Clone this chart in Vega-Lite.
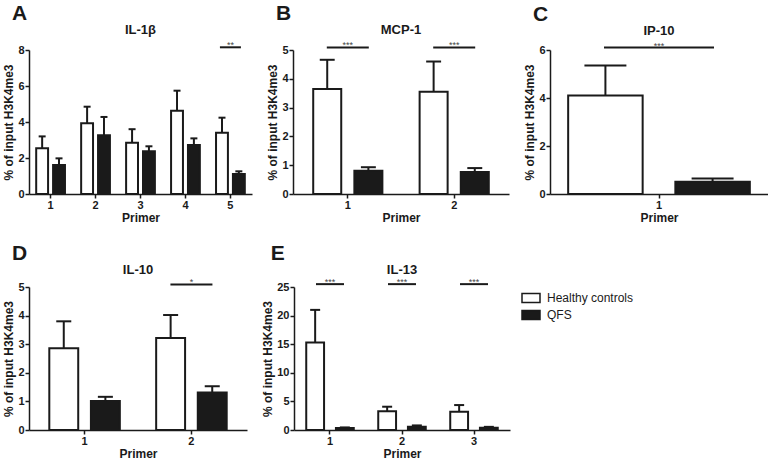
{
  "$schema": "https://vega.github.io/schema/vega-lite/v6.json",
  "padding": {"left": 2, "top": 3, "right": 0, "bottom": 0},
  "background": "white",
  "config": {
    "font": "Liberation Sans",
    "view": {"stroke": null},
    "axis": {
      "grid": false,
      "domainColor": "#1a1a1a",
      "domainWidth": 1.5,
      "tickColor": "#1a1a1a",
      "tickWidth": 1.5,
      "tickSize": 4,
      "labelFont": "Liberation Sans",
      "labelFontWeight": "bold",
      "labelFontSize": 11,
      "labelColor": "#1a1a1a",
      "labelPadding": 1,
      "titleFont": "Liberation Sans",
      "titleFontWeight": "bold",
      "titleFontSize": 12,
      "titleColor": "#1a1a1a",
      "titlePadding": 2
    },
    "title": {"font": "Liberation Sans", "fontWeight": "bold", "color": "#1a1a1a"},
    "text": {"font": "Liberation Sans"}
  },
  "datasets": {
    "bars": [
      {"panel": "A", "primer": "1", "group": "Healthy controls", "value": 2.54, "err": 3.2},
      {"panel": "A", "primer": "1", "group": "QFS", "value": 1.61, "err": 1.98},
      {"panel": "A", "primer": "2", "group": "Healthy controls", "value": 3.93, "err": 4.85},
      {"panel": "A", "primer": "2", "group": "QFS", "value": 3.26, "err": 4.28},
      {"panel": "A", "primer": "3", "group": "Healthy controls", "value": 2.85, "err": 3.6},
      {"panel": "A", "primer": "3", "group": "QFS", "value": 2.37, "err": 2.65},
      {"panel": "A", "primer": "4", "group": "Healthy controls", "value": 4.63, "err": 5.74},
      {"panel": "A", "primer": "4", "group": "QFS", "value": 2.72, "err": 3.09},
      {"panel": "A", "primer": "5", "group": "Healthy controls", "value": 3.4, "err": 4.24},
      {"panel": "A", "primer": "5", "group": "QFS", "value": 1.11, "err": 1.26},
      {"panel": "B", "primer": "1", "group": "Healthy controls", "value": 3.65, "err": 4.66},
      {"panel": "B", "primer": "1", "group": "QFS", "value": 0.81, "err": 0.93},
      {"panel": "B", "primer": "2", "group": "Healthy controls", "value": 3.55, "err": 4.6},
      {"panel": "B", "primer": "2", "group": "QFS", "value": 0.76, "err": 0.9},
      {"panel": "C", "primer": "1", "group": "Healthy controls", "value": 4.1, "err": 5.35},
      {"panel": "C", "primer": "1", "group": "QFS", "value": 0.51, "err": 0.65},
      {"panel": "D", "primer": "1", "group": "Healthy controls", "value": 2.86, "err": 3.8},
      {"panel": "D", "primer": "1", "group": "QFS", "value": 1.01, "err": 1.16},
      {"panel": "D", "primer": "2", "group": "Healthy controls", "value": 3.22, "err": 4.02},
      {"panel": "D", "primer": "2", "group": "QFS", "value": 1.31, "err": 1.53},
      {"panel": "E", "primer": "1", "group": "Healthy controls", "value": 15.3, "err": 21.0},
      {"panel": "E", "primer": "1", "group": "QFS", "value": 0.35, "err": 0.45},
      {"panel": "E", "primer": "2", "group": "Healthy controls", "value": 3.26, "err": 4.07},
      {"panel": "E", "primer": "2", "group": "QFS", "value": 0.58, "err": 0.8},
      {"panel": "E", "primer": "3", "group": "Healthy controls", "value": 3.2, "err": 4.36},
      {"panel": "E", "primer": "3", "group": "QFS", "value": 0.4, "err": 0.55}
    ],
    "sig": [
      {"panel": "A", "primer": "5", "y": 8.15, "label": "**"},
      {"panel": "B", "primer": "1", "y": 5.09, "label": "***"},
      {"panel": "B", "primer": "2", "y": 5.09, "label": "***"},
      {"panel": "C", "primer": "1", "y": 6.1, "label": "***"},
      {"panel": "D", "primer": "2", "y": 5.09, "label": "*"},
      {"panel": "E", "primer": "1", "y": 25.5, "label": "***"},
      {"panel": "E", "primer": "2", "y": 25.5, "label": "***"},
      {"panel": "E", "primer": "3", "y": 25.5, "label": "***"}
    ]
  },
  "resolve": {"scale": {"fill": "independent"}, "legend": {"fill": "independent"}},
  "spacing": 20,
  "vconcat": [
    {
      "resolve": {"scale": {"fill": "independent"}, "legend": {"fill": "independent"}},
      "spacing": 14,
      "hconcat": [
        {
          "title": {"text": "A", "anchor": "start", "fontSize": 21, "offset": 0, "dx": 9},
          "resolve": {"scale": {"fill": "independent"}, "legend": {"fill": "independent"}},
          "vconcat": [
            {
              "title": {"text": "IL-1β", "fontSize": 13, "offset": 4},
              "width": 223, "height": 144,
              "layer": [
                {
                  "data": {"name": "bars"},
                  "transform": [{"filter": "datum.panel === 'A' && datum.group === 'Healthy controls'"}],
                  "mark": {"type": "bar", "stroke": "#1a1a1a", "strokeWidth": 2},
                  "encoding": {
                    "x": {"field": "primer", "type": "ordinal", "title": "Primer", "bandPosition": 0, "scale": {"paddingInner": 0.36, "paddingOuter": 0.16}, "axis": {"labelAngle": 0}},
                    "x2": {"field": "primer", "bandPosition": 0.413},
                    "y": {"field": "value", "type": "quantitative", "title": "% of input  H3K4me3", "scale": {"domain": [0, 8], "nice": false}, "axis": {"values": [0, 2, 4, 6, 8]}},
                    "y2": {"datum": 0},
                    "fill": {"field": "group", "type": "nominal", "scale": {"domain": ["Healthy controls", "QFS"], "range": ["white", "#1a1a1a"]}, "legend": null}
                  }
                },
                {
                  "data": {"name": "bars"},
                  "transform": [{"filter": "datum.panel === 'A' && datum.group === 'QFS'"}],
                  "mark": {"type": "bar", "stroke": "#1a1a1a", "strokeWidth": 2},
                  "encoding": {
                    "x": {"field": "primer", "type": "ordinal", "title": "Primer", "bandPosition": 0.587, "scale": {"paddingInner": 0.36, "paddingOuter": 0.16}, "axis": {"labelAngle": 0}},
                    "x2": {"field": "primer", "bandPosition": 1},
                    "y": {"field": "value", "type": "quantitative", "title": "% of input  H3K4me3", "scale": {"domain": [0, 8], "nice": false}, "axis": {"values": [0, 2, 4, 6, 8]}},
                    "y2": {"datum": 0},
                    "fill": {"field": "group", "type": "nominal", "scale": {"domain": ["Healthy controls", "QFS"], "range": ["white", "#1a1a1a"]}, "legend": null}
                  }
                },
                {
                  "data": {"name": "bars"},
                  "transform": [{"filter": "datum.panel === 'A' && datum.group === 'Healthy controls'"}],
                  "mark": {"type": "rule", "color": "#1a1a1a", "strokeWidth": 2},
                  "encoding": {
                    "x": {"field": "primer", "type": "ordinal", "title": "Primer", "bandPosition": 0.207, "scale": {"paddingInner": 0.36, "paddingOuter": 0.16}, "axis": {"labelAngle": 0}},
                    "y": {"field": "value", "type": "quantitative", "title": "% of input  H3K4me3", "scale": {"domain": [0, 8], "nice": false}, "axis": {"values": [0, 2, 4, 6, 8]}},
                    "y2": {"field": "err"}
                  }
                },
                {
                  "data": {"name": "bars"},
                  "transform": [{"filter": "datum.panel === 'A' && datum.group === 'QFS'"}],
                  "mark": {"type": "rule", "color": "#1a1a1a", "strokeWidth": 2},
                  "encoding": {
                    "x": {"field": "primer", "type": "ordinal", "title": "Primer", "bandPosition": 0.793, "scale": {"paddingInner": 0.36, "paddingOuter": 0.16}, "axis": {"labelAngle": 0}},
                    "y": {"field": "value", "type": "quantitative", "title": "% of input  H3K4me3", "scale": {"domain": [0, 8], "nice": false}, "axis": {"values": [0, 2, 4, 6, 8]}},
                    "y2": {"field": "err"}
                  }
                },
                {
                  "data": {"name": "bars"},
                  "transform": [{"filter": "datum.panel === 'A' && datum.group === 'Healthy controls'"}],
                  "mark": {"type": "rule", "color": "#1a1a1a", "strokeWidth": 2},
                  "encoding": {
                    "x": {"field": "primer", "type": "ordinal", "title": "Primer", "bandPosition": 0.0855, "scale": {"paddingInner": 0.36, "paddingOuter": 0.16}, "axis": {"labelAngle": 0}},
                    "x2": {"field": "primer", "bandPosition": 0.3285},
                    "y": {"field": "err", "type": "quantitative", "title": "% of input  H3K4me3", "scale": {"domain": [0, 8], "nice": false}, "axis": {"values": [0, 2, 4, 6, 8]}}
                  }
                },
                {
                  "data": {"name": "bars"},
                  "transform": [{"filter": "datum.panel === 'A' && datum.group === 'QFS'"}],
                  "mark": {"type": "rule", "color": "#1a1a1a", "strokeWidth": 2},
                  "encoding": {
                    "x": {"field": "primer", "type": "ordinal", "title": "Primer", "bandPosition": 0.6715, "scale": {"paddingInner": 0.36, "paddingOuter": 0.16}, "axis": {"labelAngle": 0}},
                    "x2": {"field": "primer", "bandPosition": 0.9145},
                    "y": {"field": "err", "type": "quantitative", "title": "% of input  H3K4me3", "scale": {"domain": [0, 8], "nice": false}, "axis": {"values": [0, 2, 4, 6, 8]}}
                  }
                },
                {
                  "data": {"name": "sig"},
                  "transform": [{"filter": "datum.panel === 'A'"}],
                  "mark": {"type": "tick", "color": "#1a1a1a", "thickness": 2, "size": 21, "opacity": 1},
                  "encoding": {
                    "x": {"field": "primer", "type": "ordinal", "title": "Primer", "scale": {"paddingInner": 0.36, "paddingOuter": 0.16}, "axis": {"labelAngle": 0}},
                    "y": {"field": "y", "type": "quantitative", "title": "% of input  H3K4me3", "scale": {"domain": [0, 8], "nice": false}, "axis": {"values": [0, 2, 4, 6, 8]}}
                  }
                },
                {
                  "data": {"name": "sig"},
                  "transform": [{"filter": "datum.panel === 'A'"}],
                  "mark": {"type": "text", "color": "#444", "fontSize": 9, "dy": 1, "baseline": "alphabetic"},
                  "encoding": {
                    "x": {"field": "primer", "type": "ordinal", "title": "Primer", "scale": {"paddingInner": 0.36, "paddingOuter": 0.16}, "axis": {"labelAngle": 0}},
                    "y": {"field": "y", "type": "quantitative", "title": "% of input  H3K4me3", "scale": {"domain": [0, 8], "nice": false}, "axis": {"values": [0, 2, 4, 6, 8]}},
                    "text": {"field": "label"}
                  }
                }
              ]
            }
          ]
        },
        {
          "title": {"text": "B", "anchor": "start", "fontSize": 21, "offset": 0, "dx": 9},
          "resolve": {"scale": {"fill": "independent"}, "legend": {"fill": "independent"}},
          "vconcat": [
            {
              "title": {"text": "MCP-1", "fontSize": 13, "offset": 4},
              "width": 216, "height": 144,
              "layer": [
                {
                  "data": {"name": "bars"},
                  "transform": [{"filter": "datum.panel === 'B' && datum.group === 'Healthy controls'"}],
                  "mark": {"type": "bar", "stroke": "#1a1a1a", "strokeWidth": 2},
                  "encoding": {
                    "x": {"field": "primer", "type": "ordinal", "title": "Primer", "bandPosition": 0, "scale": {"paddingInner": 0.35, "paddingOuter": 0.19}, "axis": {"labelAngle": 0}},
                    "x2": {"field": "primer", "bandPosition": 0.405},
                    "y": {"field": "value", "type": "quantitative", "title": "% of input  H3K4me3", "scale": {"domain": [0, 5], "nice": false}, "axis": {"values": [0, 1, 2, 3, 4, 5]}},
                    "y2": {"datum": 0},
                    "fill": {"field": "group", "type": "nominal", "scale": {"domain": ["Healthy controls", "QFS"], "range": ["white", "#1a1a1a"]}, "legend": null}
                  }
                },
                {
                  "data": {"name": "bars"},
                  "transform": [{"filter": "datum.panel === 'B' && datum.group === 'QFS'"}],
                  "mark": {"type": "bar", "stroke": "#1a1a1a", "strokeWidth": 2},
                  "encoding": {
                    "x": {"field": "primer", "type": "ordinal", "title": "Primer", "bandPosition": 0.595, "scale": {"paddingInner": 0.35, "paddingOuter": 0.19}, "axis": {"labelAngle": 0}},
                    "x2": {"field": "primer", "bandPosition": 1},
                    "y": {"field": "value", "type": "quantitative", "title": "% of input  H3K4me3", "scale": {"domain": [0, 5], "nice": false}, "axis": {"values": [0, 1, 2, 3, 4, 5]}},
                    "y2": {"datum": 0},
                    "fill": {"field": "group", "type": "nominal", "scale": {"domain": ["Healthy controls", "QFS"], "range": ["white", "#1a1a1a"]}, "legend": null}
                  }
                },
                {
                  "data": {"name": "bars"},
                  "transform": [{"filter": "datum.panel === 'B' && datum.group === 'Healthy controls'"}],
                  "mark": {"type": "rule", "color": "#1a1a1a", "strokeWidth": 2},
                  "encoding": {
                    "x": {"field": "primer", "type": "ordinal", "title": "Primer", "bandPosition": 0.2025, "scale": {"paddingInner": 0.35, "paddingOuter": 0.19}, "axis": {"labelAngle": 0}},
                    "y": {"field": "value", "type": "quantitative", "title": "% of input  H3K4me3", "scale": {"domain": [0, 5], "nice": false}, "axis": {"values": [0, 1, 2, 3, 4, 5]}},
                    "y2": {"field": "err"}
                  }
                },
                {
                  "data": {"name": "bars"},
                  "transform": [{"filter": "datum.panel === 'B' && datum.group === 'QFS'"}],
                  "mark": {"type": "rule", "color": "#1a1a1a", "strokeWidth": 2},
                  "encoding": {
                    "x": {"field": "primer", "type": "ordinal", "title": "Primer", "bandPosition": 0.7975, "scale": {"paddingInner": 0.35, "paddingOuter": 0.19}, "axis": {"labelAngle": 0}},
                    "y": {"field": "value", "type": "quantitative", "title": "% of input  H3K4me3", "scale": {"domain": [0, 5], "nice": false}, "axis": {"values": [0, 1, 2, 3, 4, 5]}},
                    "y2": {"field": "err"}
                  }
                },
                {
                  "data": {"name": "bars"},
                  "transform": [{"filter": "datum.panel === 'B' && datum.group === 'Healthy controls'"}],
                  "mark": {"type": "rule", "color": "#1a1a1a", "strokeWidth": 2},
                  "encoding": {
                    "x": {"field": "primer", "type": "ordinal", "title": "Primer", "bandPosition": 0.0945, "scale": {"paddingInner": 0.35, "paddingOuter": 0.19}, "axis": {"labelAngle": 0}},
                    "x2": {"field": "primer", "bandPosition": 0.3105},
                    "y": {"field": "err", "type": "quantitative", "title": "% of input  H3K4me3", "scale": {"domain": [0, 5], "nice": false}, "axis": {"values": [0, 1, 2, 3, 4, 5]}}
                  }
                },
                {
                  "data": {"name": "bars"},
                  "transform": [{"filter": "datum.panel === 'B' && datum.group === 'QFS'"}],
                  "mark": {"type": "rule", "color": "#1a1a1a", "strokeWidth": 2},
                  "encoding": {
                    "x": {"field": "primer", "type": "ordinal", "title": "Primer", "bandPosition": 0.6895, "scale": {"paddingInner": 0.35, "paddingOuter": 0.19}, "axis": {"labelAngle": 0}},
                    "x2": {"field": "primer", "bandPosition": 0.9055},
                    "y": {"field": "err", "type": "quantitative", "title": "% of input  H3K4me3", "scale": {"domain": [0, 5], "nice": false}, "axis": {"values": [0, 1, 2, 3, 4, 5]}}
                  }
                },
                {
                  "data": {"name": "sig"},
                  "transform": [{"filter": "datum.panel === 'B'"}],
                  "mark": {"type": "tick", "color": "#1a1a1a", "thickness": 2, "size": 42, "opacity": 1},
                  "encoding": {
                    "x": {"field": "primer", "type": "ordinal", "title": "Primer", "scale": {"paddingInner": 0.35, "paddingOuter": 0.19}, "axis": {"labelAngle": 0}},
                    "y": {"field": "y", "type": "quantitative", "title": "% of input  H3K4me3", "scale": {"domain": [0, 5], "nice": false}, "axis": {"values": [0, 1, 2, 3, 4, 5]}}
                  }
                },
                {
                  "data": {"name": "sig"},
                  "transform": [{"filter": "datum.panel === 'B'"}],
                  "mark": {"type": "text", "color": "#444", "fontSize": 9, "dy": 1, "baseline": "alphabetic"},
                  "encoding": {
                    "x": {"field": "primer", "type": "ordinal", "title": "Primer", "scale": {"paddingInner": 0.35, "paddingOuter": 0.19}, "axis": {"labelAngle": 0}},
                    "y": {"field": "y", "type": "quantitative", "title": "% of input  H3K4me3", "scale": {"domain": [0, 5], "nice": false}, "axis": {"values": [0, 1, 2, 3, 4, 5]}},
                    "text": {"field": "label"}
                  }
                }
              ]
            }
          ]
        },
        {
          "title": {"text": "C", "anchor": "start", "fontSize": 21, "offset": 0, "dx": 9},
          "resolve": {"scale": {"fill": "independent"}, "legend": {"fill": "independent"}},
          "vconcat": [
            {
              "title": {"text": "IP-10", "fontSize": 13, "offset": 4},
              "width": 218, "height": 144,
              "layer": [
                {
                  "data": {"name": "bars"},
                  "transform": [{"filter": "datum.panel === 'C' && datum.group === 'Healthy controls'"}],
                  "mark": {"type": "bar", "stroke": "#1a1a1a", "strokeWidth": 2},
                  "encoding": {
                    "x": {"field": "primer", "type": "ordinal", "title": "Primer", "bandPosition": 0, "scale": {"paddingInner": 0, "paddingOuter": 0.1}, "axis": {"labelAngle": 0}},
                    "x2": {"field": "primer", "bandPosition": 0.41},
                    "y": {"field": "value", "type": "quantitative", "title": "% of input  H3K4me3", "scale": {"domain": [0, 6], "nice": false}, "axis": {"values": [0, 2, 4, 6]}},
                    "y2": {"datum": 0},
                    "fill": {"field": "group", "type": "nominal", "scale": {"domain": ["Healthy controls", "QFS"], "range": ["white", "#1a1a1a"]}, "legend": null}
                  }
                },
                {
                  "data": {"name": "bars"},
                  "transform": [{"filter": "datum.panel === 'C' && datum.group === 'QFS'"}],
                  "mark": {"type": "bar", "stroke": "#1a1a1a", "strokeWidth": 2},
                  "encoding": {
                    "x": {"field": "primer", "type": "ordinal", "title": "Primer", "bandPosition": 0.59, "scale": {"paddingInner": 0, "paddingOuter": 0.1}, "axis": {"labelAngle": 0}},
                    "x2": {"field": "primer", "bandPosition": 1},
                    "y": {"field": "value", "type": "quantitative", "title": "% of input  H3K4me3", "scale": {"domain": [0, 6], "nice": false}, "axis": {"values": [0, 2, 4, 6]}},
                    "y2": {"datum": 0},
                    "fill": {"field": "group", "type": "nominal", "scale": {"domain": ["Healthy controls", "QFS"], "range": ["white", "#1a1a1a"]}, "legend": null}
                  }
                },
                {
                  "data": {"name": "bars"},
                  "transform": [{"filter": "datum.panel === 'C' && datum.group === 'Healthy controls'"}],
                  "mark": {"type": "rule", "color": "#1a1a1a", "strokeWidth": 2},
                  "encoding": {
                    "x": {"field": "primer", "type": "ordinal", "title": "Primer", "bandPosition": 0.205, "scale": {"paddingInner": 0, "paddingOuter": 0.1}, "axis": {"labelAngle": 0}},
                    "y": {"field": "value", "type": "quantitative", "title": "% of input  H3K4me3", "scale": {"domain": [0, 6], "nice": false}, "axis": {"values": [0, 2, 4, 6]}},
                    "y2": {"field": "err"}
                  }
                },
                {
                  "data": {"name": "bars"},
                  "transform": [{"filter": "datum.panel === 'C' && datum.group === 'QFS'"}],
                  "mark": {"type": "rule", "color": "#1a1a1a", "strokeWidth": 2},
                  "encoding": {
                    "x": {"field": "primer", "type": "ordinal", "title": "Primer", "bandPosition": 0.795, "scale": {"paddingInner": 0, "paddingOuter": 0.1}, "axis": {"labelAngle": 0}},
                    "y": {"field": "value", "type": "quantitative", "title": "% of input  H3K4me3", "scale": {"domain": [0, 6], "nice": false}, "axis": {"values": [0, 2, 4, 6]}},
                    "y2": {"field": "err"}
                  }
                },
                {
                  "data": {"name": "bars"},
                  "transform": [{"filter": "datum.panel === 'C' && datum.group === 'Healthy controls'"}],
                  "mark": {"type": "rule", "color": "#1a1a1a", "strokeWidth": 2},
                  "encoding": {
                    "x": {"field": "primer", "type": "ordinal", "title": "Primer", "bandPosition": 0.0895, "scale": {"paddingInner": 0, "paddingOuter": 0.1}, "axis": {"labelAngle": 0}},
                    "x2": {"field": "primer", "bandPosition": 0.3205},
                    "y": {"field": "err", "type": "quantitative", "title": "% of input  H3K4me3", "scale": {"domain": [0, 6], "nice": false}, "axis": {"values": [0, 2, 4, 6]}}
                  }
                },
                {
                  "data": {"name": "bars"},
                  "transform": [{"filter": "datum.panel === 'C' && datum.group === 'QFS'"}],
                  "mark": {"type": "rule", "color": "#1a1a1a", "strokeWidth": 2},
                  "encoding": {
                    "x": {"field": "primer", "type": "ordinal", "title": "Primer", "bandPosition": 0.6795, "scale": {"paddingInner": 0, "paddingOuter": 0.1}, "axis": {"labelAngle": 0}},
                    "x2": {"field": "primer", "bandPosition": 0.9105},
                    "y": {"field": "err", "type": "quantitative", "title": "% of input  H3K4me3", "scale": {"domain": [0, 6], "nice": false}, "axis": {"values": [0, 2, 4, 6]}}
                  }
                },
                {
                  "data": {"name": "sig"},
                  "transform": [{"filter": "datum.panel === 'C'"}],
                  "mark": {"type": "tick", "color": "#1a1a1a", "thickness": 2, "size": 110, "opacity": 1},
                  "encoding": {
                    "x": {"field": "primer", "type": "ordinal", "title": "Primer", "scale": {"paddingInner": 0, "paddingOuter": 0.1}, "axis": {"labelAngle": 0}},
                    "y": {"field": "y", "type": "quantitative", "title": "% of input  H3K4me3", "scale": {"domain": [0, 6], "nice": false}, "axis": {"values": [0, 2, 4, 6]}}
                  }
                },
                {
                  "data": {"name": "sig"},
                  "transform": [{"filter": "datum.panel === 'C'"}],
                  "mark": {"type": "text", "color": "#444", "fontSize": 9, "dy": 1, "baseline": "alphabetic"},
                  "encoding": {
                    "x": {"field": "primer", "type": "ordinal", "title": "Primer", "scale": {"paddingInner": 0, "paddingOuter": 0.1}, "axis": {"labelAngle": 0}},
                    "y": {"field": "y", "type": "quantitative", "title": "% of input  H3K4me3", "scale": {"domain": [0, 6], "nice": false}, "axis": {"values": [0, 2, 4, 6]}},
                    "text": {"field": "label"}
                  }
                }
              ]
            }
          ]
        }
      ]
    },
    {
      "resolve": {"scale": {"fill": "independent"}, "legend": {"fill": "independent"}},
      "spacing": 14,
      "hconcat": [
        {
          "title": {"text": "D", "anchor": "start", "fontSize": 21, "offset": 0, "dx": 9},
          "resolve": {"scale": {"fill": "independent"}, "legend": {"fill": "independent"}},
          "vconcat": [
            {
              "title": {"text": "IL-10", "fontSize": 13, "offset": 1},
              "width": 218, "height": 143,
              "layer": [
                {
                  "data": {"name": "bars"},
                  "transform": [{"filter": "datum.panel === 'D' && datum.group === 'Healthy controls'"}],
                  "mark": {"type": "bar", "stroke": "#1a1a1a", "strokeWidth": 2},
                  "encoding": {
                    "x": {"field": "primer", "type": "ordinal", "title": "Primer", "bandPosition": 0, "scale": {"paddingInner": 0.34, "paddingOuter": 0.19}, "axis": {"labelAngle": 0}},
                    "x2": {"field": "primer", "bandPosition": 0.41},
                    "y": {"field": "value", "type": "quantitative", "title": "% of input  H3K4me3", "scale": {"domain": [0, 5], "nice": false}, "axis": {"values": [0, 1, 2, 3, 4, 5]}},
                    "y2": {"datum": 0},
                    "fill": {"field": "group", "type": "nominal", "scale": {"domain": ["Healthy controls", "QFS"], "range": ["white", "#1a1a1a"]}, "legend": null}
                  }
                },
                {
                  "data": {"name": "bars"},
                  "transform": [{"filter": "datum.panel === 'D' && datum.group === 'QFS'"}],
                  "mark": {"type": "bar", "stroke": "#1a1a1a", "strokeWidth": 2},
                  "encoding": {
                    "x": {"field": "primer", "type": "ordinal", "title": "Primer", "bandPosition": 0.59, "scale": {"paddingInner": 0.34, "paddingOuter": 0.19}, "axis": {"labelAngle": 0}},
                    "x2": {"field": "primer", "bandPosition": 1},
                    "y": {"field": "value", "type": "quantitative", "title": "% of input  H3K4me3", "scale": {"domain": [0, 5], "nice": false}, "axis": {"values": [0, 1, 2, 3, 4, 5]}},
                    "y2": {"datum": 0},
                    "fill": {"field": "group", "type": "nominal", "scale": {"domain": ["Healthy controls", "QFS"], "range": ["white", "#1a1a1a"]}, "legend": null}
                  }
                },
                {
                  "data": {"name": "bars"},
                  "transform": [{"filter": "datum.panel === 'D' && datum.group === 'Healthy controls'"}],
                  "mark": {"type": "rule", "color": "#1a1a1a", "strokeWidth": 2},
                  "encoding": {
                    "x": {"field": "primer", "type": "ordinal", "title": "Primer", "bandPosition": 0.205, "scale": {"paddingInner": 0.34, "paddingOuter": 0.19}, "axis": {"labelAngle": 0}},
                    "y": {"field": "value", "type": "quantitative", "title": "% of input  H3K4me3", "scale": {"domain": [0, 5], "nice": false}, "axis": {"values": [0, 1, 2, 3, 4, 5]}},
                    "y2": {"field": "err"}
                  }
                },
                {
                  "data": {"name": "bars"},
                  "transform": [{"filter": "datum.panel === 'D' && datum.group === 'QFS'"}],
                  "mark": {"type": "rule", "color": "#1a1a1a", "strokeWidth": 2},
                  "encoding": {
                    "x": {"field": "primer", "type": "ordinal", "title": "Primer", "bandPosition": 0.795, "scale": {"paddingInner": 0.34, "paddingOuter": 0.19}, "axis": {"labelAngle": 0}},
                    "y": {"field": "value", "type": "quantitative", "title": "% of input  H3K4me3", "scale": {"domain": [0, 5], "nice": false}, "axis": {"values": [0, 1, 2, 3, 4, 5]}},
                    "y2": {"field": "err"}
                  }
                },
                {
                  "data": {"name": "bars"},
                  "transform": [{"filter": "datum.panel === 'D' && datum.group === 'Healthy controls'"}],
                  "mark": {"type": "rule", "color": "#1a1a1a", "strokeWidth": 2},
                  "encoding": {
                    "x": {"field": "primer", "type": "ordinal", "title": "Primer", "bandPosition": 0.0985, "scale": {"paddingInner": 0.34, "paddingOuter": 0.19}, "axis": {"labelAngle": 0}},
                    "x2": {"field": "primer", "bandPosition": 0.3115},
                    "y": {"field": "err", "type": "quantitative", "title": "% of input  H3K4me3", "scale": {"domain": [0, 5], "nice": false}, "axis": {"values": [0, 1, 2, 3, 4, 5]}}
                  }
                },
                {
                  "data": {"name": "bars"},
                  "transform": [{"filter": "datum.panel === 'D' && datum.group === 'QFS'"}],
                  "mark": {"type": "rule", "color": "#1a1a1a", "strokeWidth": 2},
                  "encoding": {
                    "x": {"field": "primer", "type": "ordinal", "title": "Primer", "bandPosition": 0.6885, "scale": {"paddingInner": 0.34, "paddingOuter": 0.19}, "axis": {"labelAngle": 0}},
                    "x2": {"field": "primer", "bandPosition": 0.9015},
                    "y": {"field": "err", "type": "quantitative", "title": "% of input  H3K4me3", "scale": {"domain": [0, 5], "nice": false}, "axis": {"values": [0, 1, 2, 3, 4, 5]}}
                  }
                },
                {
                  "data": {"name": "sig"},
                  "transform": [{"filter": "datum.panel === 'D'"}],
                  "mark": {"type": "tick", "color": "#1a1a1a", "thickness": 2, "size": 42, "opacity": 1},
                  "encoding": {
                    "x": {"field": "primer", "type": "ordinal", "title": "Primer", "scale": {"paddingInner": 0.34, "paddingOuter": 0.19}, "axis": {"labelAngle": 0}},
                    "y": {"field": "y", "type": "quantitative", "title": "% of input  H3K4me3", "scale": {"domain": [0, 5], "nice": false}, "axis": {"values": [0, 1, 2, 3, 4, 5]}}
                  }
                },
                {
                  "data": {"name": "sig"},
                  "transform": [{"filter": "datum.panel === 'D'"}],
                  "mark": {"type": "text", "color": "#444", "fontSize": 9, "dy": 1, "baseline": "alphabetic"},
                  "encoding": {
                    "x": {"field": "primer", "type": "ordinal", "title": "Primer", "scale": {"paddingInner": 0.34, "paddingOuter": 0.19}, "axis": {"labelAngle": 0}},
                    "y": {"field": "y", "type": "quantitative", "title": "% of input  H3K4me3", "scale": {"domain": [0, 5], "nice": false}, "axis": {"values": [0, 1, 2, 3, 4, 5]}},
                    "text": {"field": "label"}
                  }
                }
              ]
            }
          ]
        },
        {
          "title": {"text": "E", "anchor": "start", "fontSize": 21, "offset": 0, "dx": 9},
          "resolve": {"scale": {"fill": "independent"}, "legend": {"fill": "independent"}},
          "vconcat": [
            {
              "title": {"text": "IL-13", "fontSize": 13, "offset": 1},
              "width": 216, "height": 143,
              "layer": [
                {
                  "data": {"name": "bars"},
                  "transform": [{"filter": "datum.panel === 'E' && datum.group === 'Healthy controls'"}],
                  "mark": {"type": "bar", "stroke": "#1a1a1a", "strokeWidth": 2},
                  "encoding": {
                    "x": {"field": "primer", "type": "ordinal", "title": "Primer", "bandPosition": 0, "scale": {"paddingInner": 0.34, "paddingOuter": 0.17}, "axis": {"labelAngle": 0}},
                    "x2": {"field": "primer", "bandPosition": 0.375},
                    "y": {"field": "value", "type": "quantitative", "title": "% of input  H3K4me3", "scale": {"domain": [0, 25], "nice": false}, "axis": {"values": [0, 5, 10, 15, 20, 25]}},
                    "y2": {"datum": 0},
                    "fill": {"field": "group", "type": "nominal", "scale": {"domain": ["Healthy controls", "QFS"], "range": ["white", "#1a1a1a"]},
                      "legend": {"title": null, "orient": "none", "legendX": 230, "legendY": 4, "padding": 0, "symbolType": "M-1.5,-0.75H1.5V0.75H-1.5Z", "symbolSize": 144, "symbolStrokeColor": "#1a1a1a", "symbolStrokeWidth": 1.5, "labelFont": "Liberation Sans", "labelFontSize": 12, "labelColor": "#1a1a1a", "rowPadding": 1, "labelOffset": 9}}
                  }
                },
                {
                  "data": {"name": "bars"},
                  "transform": [{"filter": "datum.panel === 'E' && datum.group === 'QFS'"}],
                  "mark": {"type": "bar", "stroke": "#1a1a1a", "strokeWidth": 2},
                  "encoding": {
                    "x": {"field": "primer", "type": "ordinal", "title": "Primer", "bandPosition": 0.625, "scale": {"paddingInner": 0.34, "paddingOuter": 0.17}, "axis": {"labelAngle": 0}},
                    "x2": {"field": "primer", "bandPosition": 1},
                    "y": {"field": "value", "type": "quantitative", "title": "% of input  H3K4me3", "scale": {"domain": [0, 25], "nice": false}, "axis": {"values": [0, 5, 10, 15, 20, 25]}},
                    "y2": {"datum": 0},
                    "fill": {"field": "group", "type": "nominal", "scale": {"domain": ["Healthy controls", "QFS"], "range": ["white", "#1a1a1a"]},
                      "legend": {"title": null, "orient": "none", "legendX": 230, "legendY": 4, "padding": 0, "symbolType": "M-1.5,-0.75H1.5V0.75H-1.5Z", "symbolSize": 144, "symbolStrokeColor": "#1a1a1a", "symbolStrokeWidth": 1.5, "labelFont": "Liberation Sans", "labelFontSize": 12, "labelColor": "#1a1a1a", "rowPadding": 1, "labelOffset": 9}}
                  }
                },
                {
                  "data": {"name": "bars"},
                  "transform": [{"filter": "datum.panel === 'E' && datum.group === 'Healthy controls'"}],
                  "mark": {"type": "rule", "color": "#1a1a1a", "strokeWidth": 2},
                  "encoding": {
                    "x": {"field": "primer", "type": "ordinal", "title": "Primer", "bandPosition": 0.1875, "scale": {"paddingInner": 0.34, "paddingOuter": 0.17}, "axis": {"labelAngle": 0}},
                    "y": {"field": "value", "type": "quantitative", "title": "% of input  H3K4me3", "scale": {"domain": [0, 25], "nice": false}, "axis": {"values": [0, 5, 10, 15, 20, 25]}},
                    "y2": {"field": "err"}
                  }
                },
                {
                  "data": {"name": "bars"},
                  "transform": [{"filter": "datum.panel === 'E' && datum.group === 'QFS'"}],
                  "mark": {"type": "rule", "color": "#1a1a1a", "strokeWidth": 2},
                  "encoding": {
                    "x": {"field": "primer", "type": "ordinal", "title": "Primer", "bandPosition": 0.8125, "scale": {"paddingInner": 0.34, "paddingOuter": 0.17}, "axis": {"labelAngle": 0}},
                    "y": {"field": "value", "type": "quantitative", "title": "% of input  H3K4me3", "scale": {"domain": [0, 25], "nice": false}, "axis": {"values": [0, 5, 10, 15, 20, 25]}},
                    "y2": {"field": "err"}
                  }
                },
                {
                  "data": {"name": "bars"},
                  "transform": [{"filter": "datum.panel === 'E' && datum.group === 'Healthy controls'"}],
                  "mark": {"type": "rule", "color": "#1a1a1a", "strokeWidth": 2},
                  "encoding": {
                    "x": {"field": "primer", "type": "ordinal", "title": "Primer", "bandPosition": 0.0825, "scale": {"paddingInner": 0.34, "paddingOuter": 0.17}, "axis": {"labelAngle": 0}},
                    "x2": {"field": "primer", "bandPosition": 0.2925},
                    "y": {"field": "err", "type": "quantitative", "title": "% of input  H3K4me3", "scale": {"domain": [0, 25], "nice": false}, "axis": {"values": [0, 5, 10, 15, 20, 25]}}
                  }
                },
                {
                  "data": {"name": "bars"},
                  "transform": [{"filter": "datum.panel === 'E' && datum.group === 'QFS'"}],
                  "mark": {"type": "rule", "color": "#1a1a1a", "strokeWidth": 2},
                  "encoding": {
                    "x": {"field": "primer", "type": "ordinal", "title": "Primer", "bandPosition": 0.7075, "scale": {"paddingInner": 0.34, "paddingOuter": 0.17}, "axis": {"labelAngle": 0}},
                    "x2": {"field": "primer", "bandPosition": 0.9175},
                    "y": {"field": "err", "type": "quantitative", "title": "% of input  H3K4me3", "scale": {"domain": [0, 25], "nice": false}, "axis": {"values": [0, 5, 10, 15, 20, 25]}}
                  }
                },
                {
                  "data": {"name": "sig"},
                  "transform": [{"filter": "datum.panel === 'E'"}],
                  "mark": {"type": "tick", "color": "#1a1a1a", "thickness": 2, "size": 28, "opacity": 1},
                  "encoding": {
                    "x": {"field": "primer", "type": "ordinal", "title": "Primer", "scale": {"paddingInner": 0.34, "paddingOuter": 0.17}, "axis": {"labelAngle": 0}},
                    "y": {"field": "y", "type": "quantitative", "title": "% of input  H3K4me3", "scale": {"domain": [0, 25], "nice": false}, "axis": {"values": [0, 5, 10, 15, 20, 25]}}
                  }
                },
                {
                  "data": {"name": "sig"},
                  "transform": [{"filter": "datum.panel === 'E'"}],
                  "mark": {"type": "text", "color": "#444", "fontSize": 9, "dy": 1, "baseline": "alphabetic"},
                  "encoding": {
                    "x": {"field": "primer", "type": "ordinal", "title": "Primer", "scale": {"paddingInner": 0.34, "paddingOuter": 0.17}, "axis": {"labelAngle": 0}},
                    "y": {"field": "y", "type": "quantitative", "title": "% of input  H3K4me3", "scale": {"domain": [0, 25], "nice": false}, "axis": {"values": [0, 5, 10, 15, 20, 25]}},
                    "text": {"field": "label"}
                  }
                }
              ]
            }
          ]
        }
      ]
    }
  ]
}
